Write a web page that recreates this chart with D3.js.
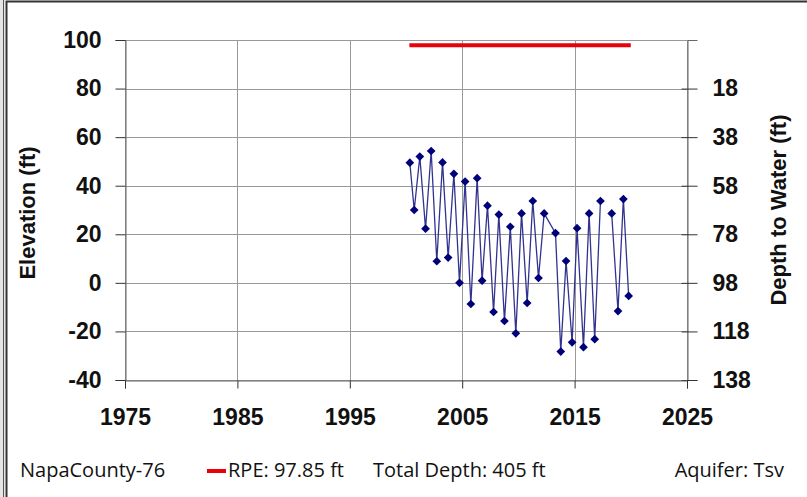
<!DOCTYPE html>
<html>
<head>
<meta charset="utf-8">
<script src="https://d3js.org/d3.v7.min.js"></script>
<style>
  body { margin: 0px; background: #fff; }
  .tick text { font: bold 23px "Liberation Sans", Arial, sans-serif; fill: #111; }
  .title { font: bold 22px "Liberation Sans", Arial, sans-serif; fill: #111; }
  .foot { font: 20px "Open Sans", "Liberation Sans", sans-serif; fill: #111; }
</style>
</head>
<body>
<svg id="chart" width="807" height="497"></svg>
<script>
// measurement dates (decimal years) and groundwater elevation (ft)
var years = [2000.34, 2000.73, 2001.23, 2001.74, 2002.24, 2002.74, 2003.25, 2003.75,
             2004.26, 2004.76, 2005.26, 2005.77, 2006.33, 2006.77, 2007.25, 2007.79,
             2008.26, 2008.76, 2009.28, 2009.77, 2010.28, 2010.78, 2011.28, 2011.79,
             2012.29, 2013.30, 2013.77, 2014.24, 2014.78, 2015.22, 2015.79, 2016.29,
             2016.79, 2017.30, 2017.80, 2018.30, 2018.86, 2019.34, 2019.81];
var elevation = [49.5, 30.0, 52.0, 22.3, 54.3, 8.9, 49.6, 10.4,
                 44.9, 0.0, 41.7, -8.7, 43.1, 0.9, 31.8, -12.0,
                 28.1, -15.7, 23.1, -20.8, 28.6, -8.3, 33.7, 2.0,
                 28.6, 20.5, -28.3, 9.0, -24.5, 22.5, -26.5, 28.6,
                 -23.2, 33.7, null, 28.6, -11.6, 34.5, -5.4];

var rpe = 97.85;
var rpeYears = [2000.3, 2020.0];
var yearTicks = [1975, 1985, 1995, 2005, 2015, 2025];
var elevTicks = [-40, -20, 0, 20, 40, 60, 80, 100];
var depthTicks = [18, 38, 58, 78, 98, 118, 138];

var svg = d3.select("#chart"),
    pLeft = 125, pRight = 687, pTop = 40, pBottom = 380;

var x = d3.scaleLinear().domain([1975, 2025]).range([pLeft, pRight]);
var y = d3.scaleLinear().domain([-40, 100]).range([pBottom, pTop]);
var y2 = d3.scaleLinear().domain([138, -2]).range([pBottom, pTop]);
var plain = function(d) { return String(d); };

// frame round the chart
svg.append("rect").attr("x", 0).attr("y", 0).attr("width", 5).attr("height", 497).attr("fill", "#e6e6e6");
svg.append("path").attr("d", "M6.5,497V1.5H807").attr("fill", "none").attr("stroke", "#333").attr("stroke-width", 2);
svg.append("path").attr("d", "M3.5,497V0").attr("fill", "none").attr("stroke", "#555").attr("stroke-width", 1);

// grid
var grid = svg.append("g").attr("stroke", "#999").attr("stroke-width", 1);
grid.selectAll(".h").data(elevTicks).enter().append("line")
    .attr("x1", pLeft).attr("x2", pRight)
    .attr("y1", function(d) { return Math.round(y(d)) + 0.5; })
    .attr("y2", function(d) { return Math.round(y(d)) + 0.5; });
grid.selectAll(".v").data(yearTicks).enter().append("line")
    .attr("y1", pTop).attr("y2", pBottom)
    .attr("x1", function(d) { return Math.round(x(d)) + 0.5; })
    .attr("x2", function(d) { return Math.round(x(d)) + 0.5; });

// axes
var gl = svg.append("g").attr("transform", "translate(" + (pLeft + 0.5) + ",0)")
    .call(d3.axisLeft(y).tickValues(elevTicks).tickFormat(plain).tickSize(10).tickPadding(14));
var gr = svg.append("g").attr("transform", "translate(" + (pRight + 0.5) + ",0)")
    .call(d3.axisRight(y2).tickValues(depthTicks).tickFormat(plain).tickSize(10).tickPadding(15));
gr.selectAll(".tick line").attr("x1", -6);
var gb = svg.append("g").attr("transform", "translate(0," + (pBottom + 0.5) + ")")
    .call(d3.axisBottom(x).tickValues(yearTicks).tickFormat(plain).tickSize(8).tickPadding(20));
[gl, gr, gb].forEach(function(g) {
  g.select(".domain").attr("stroke", "#666");
  g.selectAll(".tick line").attr("stroke", "#333");
});

// axis titles
svg.append("text").attr("class", "title")
    .attr("transform", "translate(35,213) rotate(-90)")
    .attr("text-anchor", "middle").text("Elevation (ft)");
svg.append("text").attr("class", "title")
    .attr("transform", "translate(786,210) rotate(-90)")
    .attr("text-anchor", "middle").text("Depth to Water (ft)");

// RPE line
svg.append("line")
    .attr("x1", x(rpeYears[0])).attr("x2", x(rpeYears[1]))
    .attr("y1", y(rpe)).attr("y2", y(rpe))
    .attr("stroke", "#e8000b").attr("stroke-width", 4);

// water level series
var pts = years.map(function(d, i) { return { t: d, v: elevation[i] }; });
var line = d3.line()
    .defined(function(d) { return d.v !== null; })
    .x(function(d) { return x(d.t); })
    .y(function(d) { return y(d.v); });
svg.append("path").datum(pts)
    .attr("d", line).attr("fill", "none")
    .attr("stroke", "#33338f").attr("stroke-width", 1.3);
svg.selectAll(".pt").data(pts.filter(function(d) { return d.v !== null; }))
  .enter().append("path")
    .attr("d", d3.symbol().type(d3.symbolSquare).size(38))
    .attr("transform", function(d) { return "translate(" + x(d.t) + "," + y(d.v) + ") rotate(45)"; })
    .attr("fill", "#00007a");

// footer
svg.append("text").attr("class", "foot").attr("x", 20).attr("y", 477).text("NapaCounty-76");
svg.append("line").attr("x1", 207).attr("x2", 226).attr("y1", 471).attr("y2", 471)
    .attr("stroke", "#e8000b").attr("stroke-width", 4);
svg.append("text").attr("class", "foot").attr("x", 228).attr("y", 477).text("RPE: " + rpe + " ft");
svg.append("text").attr("class", "foot").attr("x", 373).attr("y", 477).text("Total Depth: 405 ft");
svg.append("text").attr("class", "foot").attr("x", 784).attr("y", 477).attr("text-anchor", "end").text("Aquifer: Tsv");
</script>
</body>
</html>
